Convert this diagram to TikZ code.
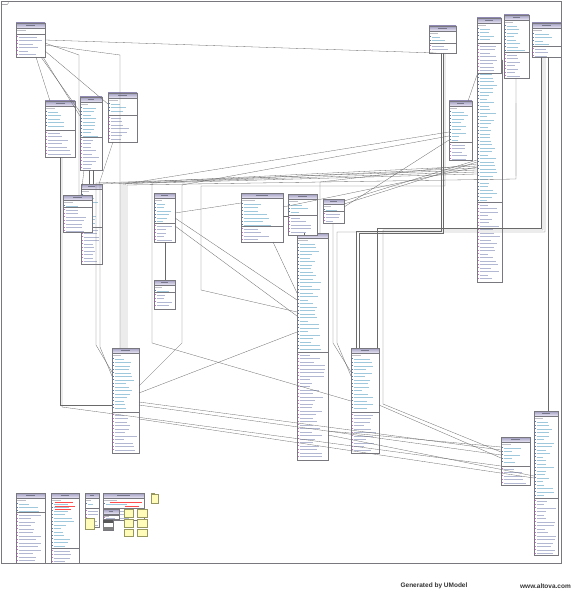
\documentclass[tikz,border=0pt]{standalone}
\usepackage{fontspec}
\setmainfont{Liberation Sans}
\usetikzlibrary{calc}
\definecolor{bord}{RGB}{120,120,126}
\definecolor{hdA}{RGB}{158,153,190}
\definecolor{hdB}{RGB}{234,232,247}
\definecolor{ttl}{RGB}{120,120,140}
\definecolor{stc}{RGB}{190,190,198}
\definecolor{attr}{RGB}{160,200,220}
\definecolor{opc}{RGB}{178,184,210}
\definecolor{icA}{RGB}{90,120,175}
\definecolor{icO}{RGB}{205,110,210}
\definecolor{conn}{RGB}{105,105,105}
\definecolor{notf}{RGB}{255,252,185}
\definecolor{notb}{RGB}{150,150,95}
\tikzset{
  boxn/.style={draw=bord, fill=white, line width=.4pt, inner sep=0pt, outer sep=0pt, anchor=north west},
  bline/.style={draw=bord, line width=.3pt},
  boxb/.style={draw=bord, line width=.45pt},
  tline/.style={draw=ttl, line width=.5pt},
  sline/.style={draw=stc, line width=.45pt},
  attrl/.style={draw=attr, line width=.45pt},
  opl/.style={draw=opc, line width=.45pt},
  cn/.style={draw=conn, line width=.3pt},
  note/.style={draw=notb, fill=notf, line width=.35pt, inner sep=0pt, outer sep=0pt, anchor=north west},
}
\pgfmathsetseed{11}
% name, x, y, w, h, y-offset of attribute/operation separator
\newcommand\ubox[6]{%
  \node[boxn, minimum width=#4pt, minimum height=#5pt] (#1) at (#2,#3) {};
  \shade[top color=hdA, bottom color=hdB] (#2,#3) rectangle ++(#4,5);
  \draw[bline] (#2,#3+5) -- ++(#4,0);
  \draw[bline] (#2,#3+#6) -- ++(#4,0);
  \draw[tline] (#2+#4*0.35,#3+2.5) -- ++(#4*0.3,0);
  \draw[sline] (#2+1.3,#3+7.4) -- ++(#4*0.3,0);
  \pgfmathtruncatemacro\na{floor((#6-12)/3.5)}%
  \ifnum\na>-1
  \foreach \i in {0,...,\na}{%
    \pgfmathsetmacro\yy{#3+10.8+3.5*\i}%
    \pgfmathsetmacro\rl{#4*(0.25+0.45*rnd)}%
    \fill[icA] (#2+1.3,\yy-0.5) rectangle ++(1,1);
    \draw[attrl] (#2+3.2,\yy) -- ++(\rl,0);
  }\fi
  \pgfmathtruncatemacro\nb{floor((#5-#6-4)/3.5)}%
  \ifnum\nb>-1
  \foreach \i in {0,...,\nb}{%
    \pgfmathsetmacro\yy{#3+#6+2.8+3.5*\i}%
    \pgfmathsetmacro\rl{#4*(0.3+0.5*rnd)}%
    \fill[icO] (#2+1.3,\yy-0.5) rectangle ++(1,1);
    \draw[opl] (#2+3.2,\yy) -- ++(\rl,0);
  }\fi
  \draw[boxb] (#2,#3) rectangle ++(#4,#5);
}
\begin{document}
\begin{tikzpicture}[x=1pt,y=-1pt]
\useasboundingbox (0,0) rectangle (576,591);
\fill[white] (0,0) rectangle (576,591);
% frame
\draw[draw=bord, line width=.5pt] (1.7,1.7) rectangle (561.5,563);
\draw[draw=bord, line width=.4pt] (1.7,4.6) -- (7,4.6) -- (8.2,3.4) -- (8.2,1.7);

% ---------- classes ----------
\ubox{B1}{16}{23}{29}{34}{11}
\ubox{A}{45}{101}{30}{56}{29}
\ubox{B}{80}{97}{22}{73}{40}
\ubox{C}{108}{93}{29}{49}{22}
\ubox{Dd}{81}{184}{21}{80}{43}
\ubox{D}{63}{195}{29}{37}{12}
\ubox{E}{154}{193}{21}{49}{30}
\ubox{F}{241}{193}{42}{49}{33}
\ubox{I}{297}{233}{31}{227}{119}
\ubox{G}{288}{194}{29}{41}{21}
\ubox{H}{323}{199}{21}{24}{12}
\ubox{J}{154}{280}{21}{29}{12}
\ubox{K}{112}{348}{27}{105}{64}
\ubox{L}{351}{348}{28}{105}{64}
\ubox{M}{429}{26}{27}{27}{17}
\ubox{N2}{477}{60}{25}{222}{142}
\ubox{N1}{477}{18}{24}{55}{25}
\ubox{O}{504}{15}{25}{63}{37}
\ubox{P}{532}{23}{29}{34}{23}
\ubox{Q}{449}{101}{23}{59}{41}
\ubox{R}{501}{437}{29}{48}{29}
\ubox{S}{534}{411}{24}{144}{87}

% ---------- legend area ----------
\ubox{T1}{16}{493}{29}{70}{19}
\ubox{T2}{51}{493}{28}{70}{55}
\ubox{T3}{85}{493}{14}{34}{15}
\ubox{T4}{103}{493}{41}{27}{15}
\ubox{T5}{103}{509}{16}{10}{6}
\node[boxn, minimum width=10pt, minimum height=10pt] (T6) at (103,520) {};
\fill[black!65] (103,520) rectangle ++(10,3);
\fill[black!50] (103,527) rectangle ++(10,3);
\draw[red!70, line width=.5pt] (54.5,502.5) -- ++(18,0) (54.5,506) -- ++(20,0) (54.5,509.5) -- ++(16,0);
\draw[red!70, line width=.5pt] (110,502.5) -- ++(32,0) (125,506) -- ++(14,0);
\node[note, minimum width=9pt, minimum height=11pt] (n0) at (85,518) {};
\node[note, minimum width=9pt, minimum height=8pt] (n1) at (124,509) {};
\node[note, minimum width=9pt, minimum height=8pt] (n2) at (124,519) {};
\node[note, minimum width=9pt, minimum height=7pt] (n3) at (124,529) {};
\node[note, minimum width=10pt, minimum height=8pt] (n4) at (137,509) {};
\node[note, minimum width=10pt, minimum height=8pt] (n5) at (137,519) {};
\node[note, minimum width=10pt, minimum height=7pt] (n6) at (137,529) {};
\node[note, minimum width=7pt, minimum height=8.5pt] (fd) at (151,494.5) {};
\draw[note] (151,494.5) rectangle (154,493);

% ---------- connectors ----------
\draw[cn] (B1.east |- 0,40) -- (M.south -| 436,0);
\draw[cn] (B1.east |- 0,43) -- (79,55) -- (D.north -| 79,0);
\draw[cn] (B1.east |- 0,45) -- (120,55) -- (K.north -| 120,0);
\draw[cn] (B1.south -| 36,0) -- (A.north -| 50,0);
\draw[cn] (B1.south -| 41,0) -- (B.west |- 0,112);
\draw[cn] (B1.south -| 43,0) -- (B.west |- 0,116);
\draw[cn] (B1.east |- 0,51) -- (C.west |- 0,104);
\draw[cn] (A.south -| 60,0) -- (60,405) -- (K.west |- 0,405);
\draw[cn] (A.south -| 62,0) -- (62,407) -- (R.west |- 0,466);
\draw[cn] (B.south -| 84,0) -- (D.north -| 81,0);
\draw[cn] (B.south -| 89,0) -- (Dd.north -| 89,0);
\draw[cn] (B.south -| 93,0) -- (Dd.north -| 93,0);
\draw[cn] (C.south -| 113,0) -- (Dd.north -| 99,0);
% upper bundle
\draw[cn] (N2.west |- 0,166) -- (121,183) -- (K.north -| 121,0);
\draw[cn] (N2.west |- 0,168) -- (123,184) -- (K.north -| 123,0);
\draw[cn] (Q.west |- 0,132) -- (125,184) -- (K.north -| 125,0);
\draw[cn] (O.south -| 516,0) -- (516,179) -- (127,185) -- (K.north -| 127,0);
\draw[cn] (N2.west |- 0,170) -- (96,183) -- (96,345) -- (K.west |- 0,372);
\draw[cn] (N2.west |- 0,172) -- (100,184) -- (100,347) -- (K.west |- 0,376);
\draw[cn] (N2.west |- 0,174) -- (152,183) -- (152,343) -- (L.west |- 0,401);
\draw[cn] (Q.west |- 0,136) -- (182,185) -- (182,343) -- (K.east |- 0,386);
\draw[cn] (M.south -| 445,0) -- (445,186) -- (201,186) -- (201,290) -- (I.west |- 0,312);
\draw[cn] (N2.west |- 0,164) -- (320,182) -- (I.north -| 320,0);
\draw[cn] (N2.west |- 0,160) -- (H.east |- 0,201);
\draw[cn] (N2.west |- 0,162) -- (H.east |- 0,204);
\draw[cn] (Q.west |- 0,140) -- (H.east |- 0,207);
% middle
\draw[cn] (E.east |- 0,213) -- (F.west |- 0,203);
\draw[cn] (F.east |- 0,207) -- (N2.west |- 0,167);
\draw[cn] (F.east |- 0,216) -- (G.west |- 0,216);
\draw[cn] (G.south -| 304,0) -- (I.north -| 304,0);
\draw[cn] (E.east |- 0,226) -- (I.west |- 0,316);
\draw[cn] (E.east |- 0,218) -- (I.west |- 0,300);
\draw[cn] (F.south -| 273,0) -- (I.west |- 0,293);
\draw[cn] (E.south -| 165,0) -- (J.north -| 165,0);
% lower bundle
\draw[cn] (H.south -| 333,0) -- (333,343) -- (L.west |- 0,372);
\draw[cn] (P.south -| 545,0) -- (545,232) -- (337,232) -- (337,343) -- (L.west |- 0,376);
\draw[cn] (M.south -| 441,0) -- (441,231) -- (356,231) -- (L.north -| 356,0);
\draw[cn] (M.south -| 443,0) -- (443,233) -- (359,233) -- (L.north -| 359,0);
\draw[cn] (P.south -| 541,0) -- (541,228) -- (377,228) -- (L.north -| 377,0);
\draw[cn] (P.south -| 543,0) -- (543,230) -- (383,230) -- (383,404) -- (R.west |- 0,452);
\draw[cn] (P.south -| 548,0) -- (S.north -| 548,0);
% to R and S
\draw[cn] (K.east |- 0,393) -- (I.west |- 0,332);
\draw[cn] (K.east |- 0,402) -- (R.west |- 0,450);
\draw[cn] (K.east |- 0,405) -- (R.west |- 0,455);
\draw[cn] (K.east |- 0,419) -- (S.west |- 0,478);
\draw[cn] (L.east |- 0,405) -- (R.west |- 0,458);
\draw[cn] (I.east |- 0,431) -- (R.west |- 0,447);
\draw[cn] (I.east |- 0,435) -- (S.west |- 0,476);
% top right
\draw[cn] (N2.west |- 0,75) -- (Q.north -| 468,0);
\draw[line width=1.6pt, black!12] (516,103) -- (516,176);

% footer
\node[font=\fontsize{6.5}{7}\selectfont\bfseries, text=black!80] (gen) at (434,586) {Generated by UModel};
\node[font=\fontsize{6.5}{7}\selectfont\bfseries, text=black!80] (alt) at (545.5,586) {www.altova.com};
\end{tikzpicture}
\end{document}
